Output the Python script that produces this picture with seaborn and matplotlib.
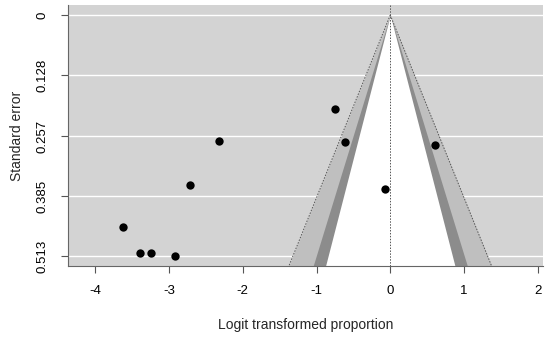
import numpy as np
import pandas as pd
import matplotlib
matplotlib.use('Agg')
import matplotlib.pyplot as plt
import seaborn as sns

# 데이터
logit_prop = [-3.63, -3.40, -3.25, -2.92, -2.72, -2.32, -0.75, -0.61, 0.61, -0.07]
std_err = [0.451, 0.506, 0.506, 0.513, 0.362, 0.268, 0.199, 0.270, 0.277, 0.370]
se_ticks = [0, 0.128, 0.257, 0.385, 0.513]
x_ticks = [-4, -3, -2, -1, 0, 1, 2]
refline = 0.0
levels_z = {0.90: 1.645, 0.95: 1.960, 0.99: 2.576}
shades = {0.99: '#BFBFBF', 0.95: '#8C8C8C', 0.90: '#FFFFFF'}

df = pd.DataFrame({'yi': logit_prop, 'sei': std_err})

sns.set_style('ticks')
plt.rcParams['font.family'] = ['Liberation Sans', 'DejaVu Sans']

fig = plt.figure(figsize=(5.5, 3.38), dpi=100)
ax = fig.add_axes([0.1236, 0.213, 0.8635, 0.771])

se_max = max(se_ticks)
ylo, yhi = -0.04 * se_max, se_max * 1.04
ax.set_facecolor('#D3D3D3')

# 가로 흰 선
for t in se_ticks:
    ax.axhline(t, color='white', lw=1, zorder=1)

# 등고선 funnel
se_grid = np.array([0, yhi])
for lev in [0.99, 0.95, 0.90]:
    z = levels_z[lev]
    ax.fill_betweenx(se_grid, refline - z * se_grid, refline + z * se_grid,
                     color=shades[lev], lw=0, zorder=2)
z99 = levels_z[0.99]
ax.plot(refline - z99 * se_grid, se_grid, color='#555555', ls=(0, (1.5, 1.5)), lw=0.7, zorder=3)
ax.plot(refline + z99 * se_grid, se_grid, color='#555555', ls=(0, (1.5, 1.5)), lw=0.7, zorder=3)
ax.axvline(refline, color='#555555', ls=(0, (1.5, 1.5)), lw=0.7, zorder=3)

sns.scatterplot(data=df, x='yi', y='sei', ax=ax, color='black', s=36,
                edgecolor='black', linewidth=0, zorder=4, legend=False)

ax.set_xlim(-4.37, 2.07)
ax.set_ylim(yhi, ylo)
ax.set_xticks(x_ticks)
ax.set_xticklabels([str(v) for v in x_ticks])
ax.set_yticks(se_ticks)
ax.set_yticklabels([f'{v:g}' for v in se_ticks], rotation=90, va='center')

for side in ['top', 'right']:
    ax.spines[side].set_visible(False)
for side in ['left', 'bottom']:
    ax.spines[side].set_color('#666666')
    ax.spines[side].set_linewidth(0.8)
ax.tick_params(axis='both', colors='#555555', labelcolor='black',
               length=5, width=0.8, labelsize=9.5, pad=9)

ax.set_xlabel('Logit transformed proportion', fontsize=10, labelpad=15)
ax.set_ylabel('Standard error', fontsize=10, labelpad=9)

fig.savefig('out.png', dpi=100)
